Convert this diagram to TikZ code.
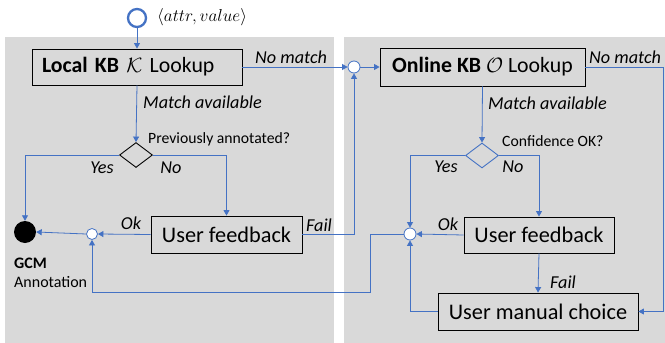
\documentclass[tikz,border=0pt]{standalone}
\usepackage{fontspec}
\setmainfont{Carlito}
\usetikzlibrary{arrows.meta,shapes.geometric}
\definecolor{flowblue}{RGB}{68,114,196}
\definecolor{panelgray}{RGB}{217,217,217}
\tikzset{
  panel/.style={fill=panelgray,draw=none},
  box/.style={draw=black,line width=0.9pt,fill=panelgray,minimum height=36pt,inner sep=0pt,font=\fontsize{22.3}{26}\selectfont},
  titlebox/.style={box,font=\fontsize{21.8}{26}\selectfont},
  arr/.style={draw=flowblue,line width=0.8pt,-{Triangle[length=5.5pt,width=6pt]}},
  merge/.style={circle,draw=flowblue,line width=0.8pt,fill=white,minimum size=12pt,inner sep=0pt},
  lbl/.style={font=\fontsize{18.2}{21}\selectfont\itshape,inner sep=0pt},
  qlbl/.style={font=\fontsize{15.7}{18}\selectfont,inner sep=0pt},
  decision/.style={diamond,minimum width=33pt,minimum height=25pt,inner sep=0pt,line width=0.9pt,fill=panelgray}
}
\begin{document}
\begin{tikzpicture}[x=1pt,y=-1pt]
\useasboundingbox (0,0) rectangle (665,343);
% panels
\fill[panel] (5,37) rectangle (334,343);
\fill[panel] (344,37) rectangle (665,343);
% start
\node[circle,draw=flowblue,line width=2.3pt,minimum size=18pt,inner sep=0pt,fill=white] (start) at (137,18) {};
\node[anchor=west,inner sep=0pt,font=\fontsize{18.8}{22}\selectfont] (attr) at (157,17) {$\langle attr, value\rangle$};
% left column
\node[titlebox,align=left,inner xsep=10pt,minimum width=210pt,text width=190pt] (local) at (137,67) {\textbf{Local KB} $\mathcal{K}$ Lookup};
\node[decision,draw=black] (d1) at (136,155) {};
\node[qlbl,anchor=west] (q1) at (148,139) {Previously annotated?};
\node[box,minimum width=151pt,minimum height=37pt] (uf1) at (226.5,234.5) {User feedback};
\node[merge,minimum size=11pt] (sc1) at (92,234) {};
\node[circle,fill=black,minimum size=22pt,inner sep=0pt] (gcm) at (25,232) {};
\node[anchor=west,inner sep=0pt,font=\fontsize{16}{19}\selectfont\bfseries] (gcmt) at (14,263) {GCM};
\node[anchor=west,inner sep=0pt,font=\fontsize{16}{19}\selectfont] (gcma) at (14,282) {Annotation};
% right column
\node[merge] (m1) at (354,67) {};
\node[titlebox,minimum width=205pt,minimum height=38pt] (online) at (482.5,67) {\textbf{Online KB} $\mathcal{O}$ Lookup};
\node[decision,draw=flowblue] (d2) at (482,155.5) {};
\node[qlbl,anchor=west] (q2) at (502,141) {Confidence OK?};
\node[box,minimum width=150pt] (uf2) at (539,235) {User feedback};
\node[merge] (m2) at (410,234) {};
\node[box,minimum width=200pt,minimum height=37pt] (mc) at (538,311.5) {User manual choice};
% connectors left
\draw[arr] (start) -- (local);
\draw[arr] (local.east) -- (m1.west);
\node[lbl,anchor=west] (nm1) at (255,57) {No match};
\draw[arr] (local.south) -- (d1.north);
\node[lbl,anchor=west] (ma1) at (143,102) {Match available};
\draw[arr] (d1.west) -| (gcm.north);
\node[lbl] (y1) at (102,168) {Yes};
\draw[arr] (d1.east) -| (uf1.north);
\node[lbl] (n1) at (171,168) {No};
\draw[arr] (uf1.west) -- (sc1.east);
\node[lbl] (ok1) at (131,223) {Ok};
\draw[arr] (sc1.west) -- (gcm.east);
\draw[arr] (uf1.east) -| (m1.south);
\node[lbl] (f1) at (319,225) {Fail};
% connectors right
\draw[arr] (m1.east) -- (online.west);
\draw[arr] (online.east) -- ++(78,0) |- (mc.east);
\node[lbl,anchor=west] (nm2) at (589,57) {No match};
\draw[arr] (online.south) -- (d2.north);
\node[lbl,anchor=west] (ma2) at (488,103) {Match available};
\draw[arr] (d2.west) -| (m2.north);
\node[lbl] (y2) at (446,167) {Yes};
\draw[arr] (d2.east) -| (uf2.north);
\node[lbl] (n2) at (513,167) {No};
\draw[arr] (uf2.west) -- (m2.east);
\node[lbl] (ok2) at (448,224) {Ok};
\draw[arr] (uf2.south) -- (mc.north);
\node[lbl] (f2) at (563,282) {Fail};
\draw[arr] (mc.west) -| (m2.south);
\draw[arr] (m2.west) -- ++(-33,0) -- ++(0,58) -| (sc1.south);
\end{tikzpicture}
\end{document}
